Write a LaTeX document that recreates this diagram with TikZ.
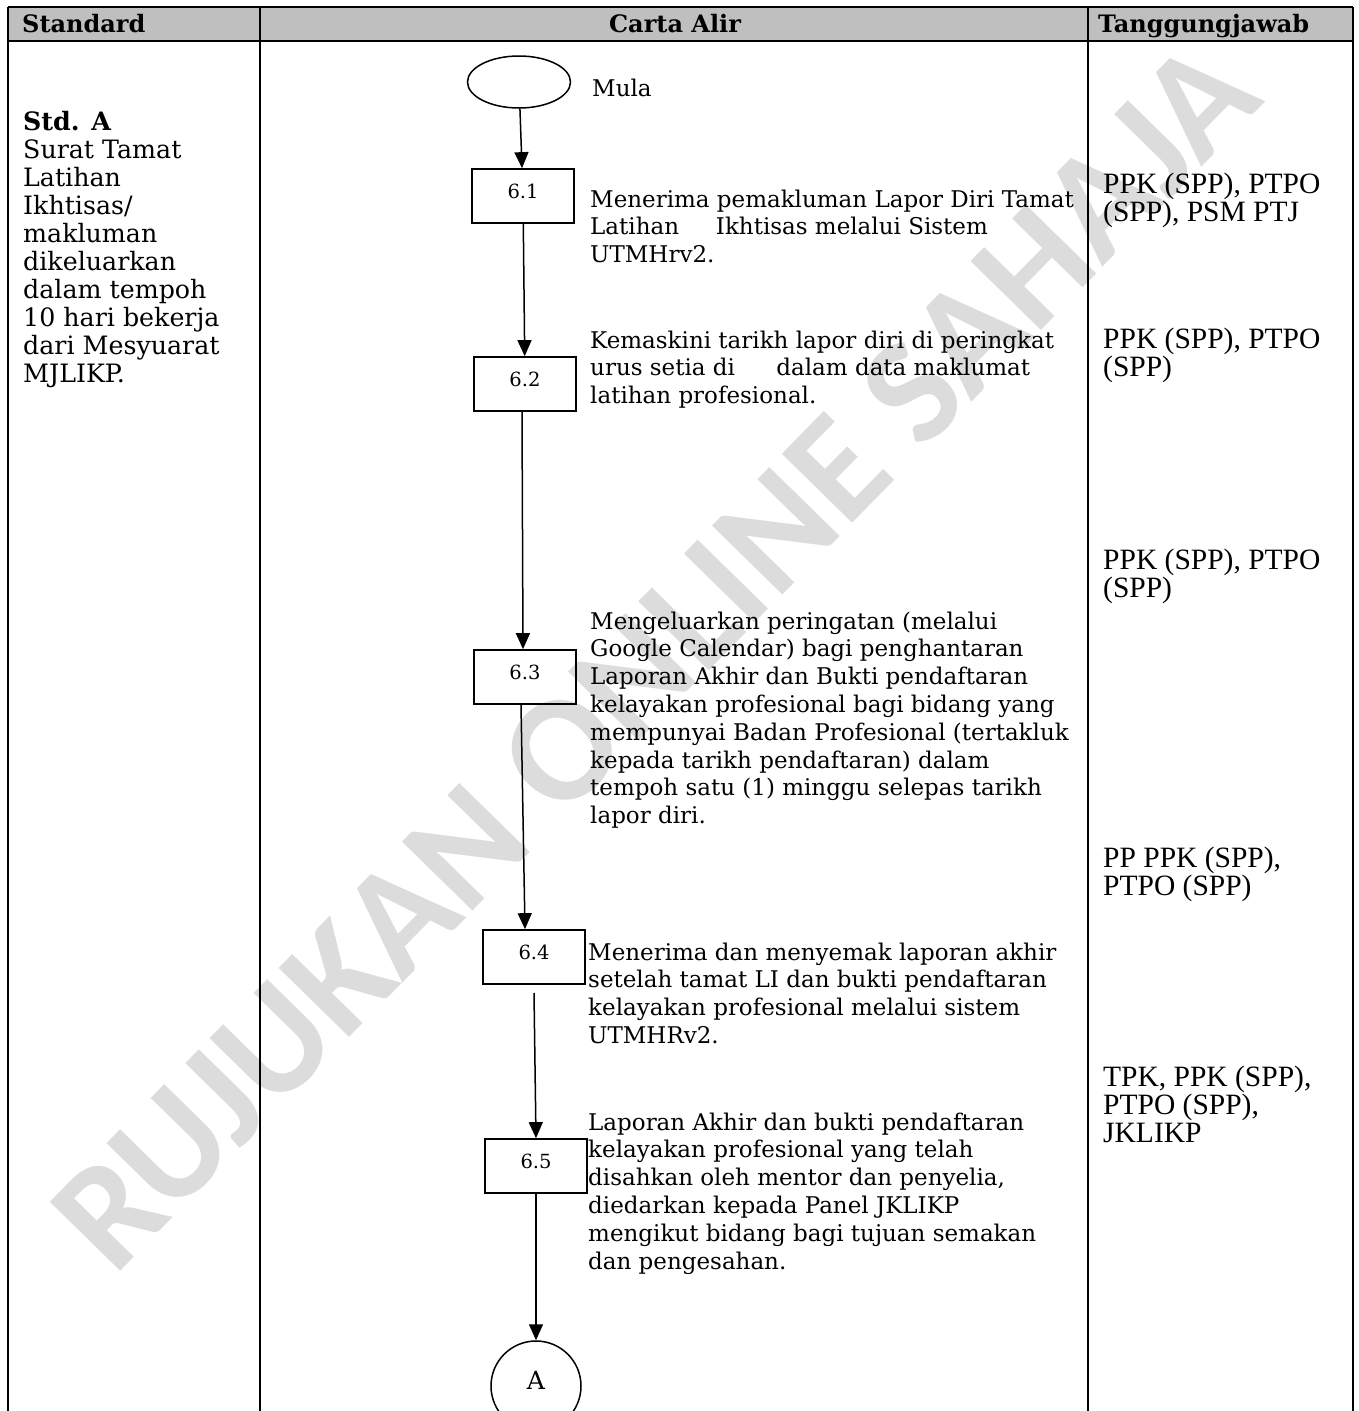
\documentclass[tikz,border=0pt]{standalone}
\usepackage{fontspec}
\setmainfont{DejaVu Serif}
\newfontfamily\respfamily{Liberation Serif}
\newfontfamily\markfamily{Carlito}
\usepackage{tikz}
\usetikzlibrary{
    arrows.meta,
    shapes.geometric,
    positioning
}

\definecolor{hdrgray}{HTML}{BFBFBF}
\definecolor{markgray}{HTML}{DCDCDC}

% lines of a text block, baseline on the first line
\newcommand{\textlines}[1]{\begin{tabular}[t]{@{}l@{}}#1\end{tabular}}

\tikzset{
    tabline/.style={line width=2.4pt},
    stepbox/.style={draw, line width=1.7pt, minimum width=102pt, minimum height=54pt,
        inner sep=0pt, text depth=10pt, font=\fontsize{19.5}{21}\selectfont},
    startnode/.style={draw, ellipse, line width=1.5pt, minimum width=103pt, minimum height=52pt},
    endnode/.style={draw, circle, line width=1.5pt, minimum size=90pt, inner sep=0pt,
        text depth=12pt, font=\fontsize{25}{27}\selectfont},
    flow/.style={line width=1.5pt, -{Triangle[width=14pt,length=16pt]}},
    desc/.style={anchor=base west, inner sep=0pt, font=\fontsize{23}{27.8}\selectfont},
    stdtext/.style={anchor=base west, inner sep=0pt, font=\fontsize{25.3}{28}\selectfont},
    resp/.style={anchor=base west, inner sep=0pt, font=\respfamily\fontsize{29.5}{28}\selectfont},
    hdr/.style={inner sep=0pt, font=\bfseries\fontsize{24}{26}\selectfont},
    watermark/.style={inner sep=0pt, text=markgray, font=\markfamily\bfseries\fontsize{152}{154}\selectfont}
}

\begin{document}
\begin{tikzpicture}[x=1pt, y=-1pt]
    \useasboundingbox (0,0) rectangle (1359,1411);

    % watermark behind everything
    \node[watermark, rotate=45.6] (wm) at (655,655) {RUJUKAN ONLINE SAHAJA};

    % table
    \fill[hdrgray] (8,7) rectangle (1353,41);
    \draw[tabline] (8,7) -- (1353,7);
    \draw[tabline] (8,41) -- (1353,41);
    \draw[tabline] (8,7) -- (8,1411);
    \draw[tabline] (260,7) -- (260,1411);
    \draw[tabline] (1088,7) -- (1088,1411);
    \draw[tabline] (1353,7) -- (1353,1411);

    \node[hdr, anchor=base west] (hstd) at (22,32) {Standard};
    \node[hdr, anchor=base] (hflow) at (675,32) {Carta Alir};
    \node[hdr, anchor=base west] (hresp) at (1098,32) {Tanggungjawab};

    % standard column
    \node[stdtext] (stda) at (23,130) {\textlines{\textbf{Std. A}\\Surat Tamat\\Latihan\\Ikhtisas/\\makluman\\dikeluarkan\\dalam tempoh\\10 hari bekerja\\dari Mesyuarat\\MJLIKP.}};

    % flow chart
    \node[startnode] (mula) at (519,82) {};
    \node[desc] (tmula) at (592,96) {Mula};

    \node[stepbox] (b61) at (523,196) {6.1};
    \node[stepbox] (b62) at (525,384) {6.2};
    \node[stepbox] (b63) at (525,677) {6.3};
    \node[stepbox] (b64) at (534,957) {6.4};
    \node[stepbox] (b65) at (536,1166) {6.5};
    \node[endnode] (conA) at (536,1386) {A};

    \draw[flow] (mula) -- (b61);
    \draw[flow] (b61) -- (b62);
    \draw[flow] ([xshift=-3pt]b62.south) -- ([xshift=-2pt]b63.north);
    \draw[flow] ([xshift=-4pt]b63.south) -- ([xshift=-9pt]b64.north);
    \draw[flow] ([yshift=-8pt]b64.south) -- (b65.north);
    \draw[flow] (b65) -- (conA);

    \node[desc] (t61) at (590,207) {\textlines{Menerima pemakluman Lapor Diri Tamat\\Latihan\hspace{1.6em}Ikhtisas melalui Sistem\\UTMHrv2.}};
    \node[desc] (t62) at (590,348) {\textlines{Kemaskini tarikh lapor diri di peringkat\\urus setia di\hspace{1.8em}dalam data maklumat\\latihan profesional.}};
    \node[desc] (t63) at (590,629) {\textlines{Mengeluarkan peringatan (melalui\\Google Calendar) bagi penghantaran\\Laporan Akhir dan Bukti pendaftaran\\kelayakan profesional bagi bidang yang\\mempunyai Badan Profesional (tertakluk\\kepada tarikh pendaftaran) dalam\\tempoh satu (1) minggu selepas tarikh\\lapor diri.}};
    \node[desc] (t64) at (588,960) {\textlines{Menerima dan menyemak laporan akhir\\setelah tamat LI dan bukti pendaftaran\\kelayakan profesional melalui sistem\\UTMHRv2.}};
    \node[desc] (t65) at (588,1130) {\textlines{Laporan Akhir dan bukti pendaftaran\\kelayakan profesional yang telah\\disahkan oleh mentor dan penyelia,\\diedarkan kepada Panel JKLIKP\\mengikut bidang bagi tujuan semakan\\dan pengesahan.}};

    % responsibility column
    \node[resp] (r61) at (1103,193) {\textlines{PPK (SPP), PTPO\\(SPP), PSM PTJ}};
    \node[resp] (r62) at (1103,348) {\textlines{PPK (SPP), PTPO\\(SPP)}};
    \node[resp] (r63) at (1103,569) {\textlines{PPK (SPP), PTPO\\(SPP)}};
    \node[resp] (r64) at (1103,867) {\textlines{PP PPK (SPP),\\PTPO (SPP)}};
    \node[resp] (r65) at (1103,1086) {\textlines{TPK, PPK (SPP),\\PTPO (SPP),\\JKLIKP}};
\end{tikzpicture}
\end{document}
